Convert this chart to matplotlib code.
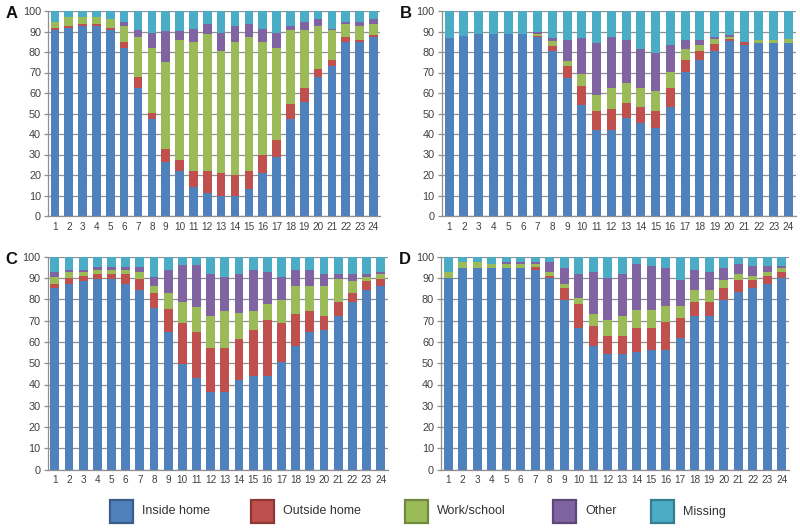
import matplotlib
matplotlib.use("Agg")
import matplotlib.pyplot as plt
from matplotlib.patches import Rectangle
import numpy as np

plt.rcParams["font.family"] = ["Liberation Sans", "DejaVu Sans"]

hours = list(range(1, 25))
categories = ["Inside home", "Outside home", "Work/school", "Other", "Missing"]
colors = ["#4F81BD", "#C0504D", "#9BBB59", "#8064A2", "#4BACC6"]
edge_colors = ["#385D8A", "#8C3836", "#71893F", "#5C4776", "#357D91"]

# Panel A
a_inside = [90.6, 91.5, 92.7, 92.7, 90.6, 81.8, 62.3, 47.2, 26.3, 21.8, 14.3, 11.0,
            10.0, 10.0, 13.0, 21.0, 28.6, 47.2, 55.6, 67.6, 73.2, 85.0, 85.0, 87.2]
a_outside = [0.9, 1.0, 1.0, 1.0, 0.9, 3.1, 5.3, 2.9, 6.5, 5.5, 7.8, 11.0,
             11.0, 10.0, 9.0, 8.6, 8.6, 7.3, 6.7, 4.3, 2.9, 2.2, 0.9, 0.9]
a_work = [3.3, 4.4, 3.2, 3.2, 4.4, 7.8, 19.7, 31.7, 42.5, 58.7, 62.9, 66.6,
          59.6, 65.0, 65.3, 55.4, 44.8, 36.1, 28.4, 20.8, 14.6, 6.5, 6.6, 5.6]
a_other = [0, 0, 0, 0, 0, 2.1, 3.4, 7.6, 15.1, 4.4, 6.4, 5.1,
           8.8, 7.7, 6.4, 6.4, 7.4, 2.1, 3.9, 3.2, 0.7, 0.9, 2.1, 2.2]
a_missing = [5.2, 3.1, 3.1, 3.1, 4.1, 5.2, 9.3, 10.6, 9.6, 9.6, 8.6, 6.3,
             10.6, 7.3, 6.3, 8.6, 10.6, 7.3, 5.4, 4.1, 8.6, 5.4, 5.4, 4.1]

# Panel B
b_inside = [87.0, 88.0, 89.0, 89.0, 89.0, 89.0, 87.2, 80.5, 67.5, 54.0, 41.8, 41.8,
            47.6, 45.5, 42.8, 53.3, 70.4, 75.9, 80.5, 85.5, 83.6, 84.2, 84.2, 84.2]
b_outside = [0, 0, 0, 0, 0, 0, 0.8, 2.6, 5.5, 9.6, 9.4, 10.6,
             7.7, 7.7, 8.6, 9.1, 5.5, 4.6, 3.6, 0.8, 1.1, 0, 0, 0]
b_work = [0, 0, 0, 0, 0, 0, 1.0, 2.3, 2.8, 5.7, 7.7, 10.0,
          9.4, 9.4, 9.4, 8.0, 5.6, 2.9, 2.1, 1.0, 0.3, 1.7, 1.7, 2.0]
b_other = [0, 0, 0, 0, 0, 0, 0.6, 1.6, 10.2, 17.7, 25.3, 24.8,
           21.2, 18.7, 18.9, 12.9, 4.5, 2.6, 1.0, 0.8, 0, 0, 0, 0]
b_missing = [13.0, 12.0, 11.0, 11.0, 11.0, 11.0, 10.4, 13.0, 14.0, 13.0, 15.8, 12.8,
             14.1, 18.7, 20.3, 16.7, 14.0, 14.0, 12.8, 11.9, 15.0, 14.1, 14.1, 13.8]

# Panel C
c_inside = [85.1, 87.3, 88.4, 89.5, 89.5, 87.2, 84.2, 76.0, 64.8, 49.5, 42.9, 36.3,
            36.3, 41.9, 43.8, 43.8, 50.5, 58.2, 64.6, 65.7, 72.3, 78.7, 84.2, 86.4]
c_outside = [2.2, 2.5, 2.4, 2.4, 2.4, 4.7, 5.5, 7.1, 10.6, 19.4, 21.9, 20.7,
             20.7, 19.6, 21.9, 26.3, 18.5, 15.0, 9.7, 6.4, 6.4, 4.2, 4.2, 3.1]
c_work = [3.3, 3.2, 2.2, 2.0, 2.0, 2.0, 3.1, 3.3, 7.6, 9.7, 11.7, 15.1,
          17.5, 11.9, 8.8, 7.7, 10.7, 13.2, 12.1, 14.3, 10.8, 5.7, 2.2, 2.2]
c_other = [2.4, 0.9, 0.9, 1.1, 1.1, 1.1, 2.2, 4.2, 10.7, 17.3, 19.4, 19.8,
           16.1, 18.5, 19.2, 14.8, 10.9, 7.3, 7.3, 5.3, 2.2, 3.1, 1.1, 0.9]
c_missing = [7.0, 6.1, 6.1, 5.0, 5.0, 5.0, 5.0, 9.4, 6.3, 4.1, 4.1, 8.1,
             9.4, 8.1, 6.3, 7.4, 9.4, 6.3, 6.3, 8.3, 8.3, 8.3, 8.3, 7.4]

# Panel D
d_inside = [90.0, 94.7, 94.7, 94.7, 94.7, 94.7, 93.7, 89.8, 79.7, 66.5, 58.2, 54.5,
            54.5, 55.4, 56.2, 56.2, 61.8, 72.1, 72.1, 79.8, 83.4, 85.3, 87.2, 90.0]
d_outside = [0, 0, 0, 0, 0, 0, 1.3, 1.1, 5.6, 11.3, 9.2, 8.3,
             8.3, 11.1, 10.3, 13.1, 9.4, 6.8, 6.8, 5.5, 5.6, 3.7, 3.7, 2.8]
d_work = [2.6, 2.6, 2.6, 1.7, 1.7, 1.7, 1.4, 1.7, 2.0, 3.0, 5.7, 7.5,
          9.5, 8.5, 8.5, 7.7, 5.8, 5.5, 5.5, 3.7, 2.9, 1.9, 1.9, 1.9]
d_other = [0, 0, 0, 0, 0.9, 0.9, 0.9, 4.7, 7.4, 11.1, 19.5, 19.8,
           19.6, 21.6, 20.6, 17.7, 12.2, 9.3, 8.4, 5.7, 4.7, 4.7, 2.8, 0.9]
d_missing = [7.4, 2.7, 2.7, 3.6, 2.7, 2.7, 2.7, 2.7, 5.3, 8.1, 7.4, 9.9,
             8.1, 3.4, 4.4, 5.3, 10.8, 6.3, 7.2, 5.3, 3.4, 4.4, 4.4, 4.4]

panels = {
    "A": [a_inside, a_outside, a_work, a_other, a_missing],
    "B": [b_inside, b_outside, b_work, b_other, b_missing],
    "C": [c_inside, c_outside, c_work, c_other, c_missing],
    "D": [d_inside, d_outside, d_work, d_other, d_missing],
}

W, H = 800, 529
# axes rectangles in pixels: left, top, right, bottom
boxes = {
    "A": (48, 11, 380.4, 216),
    "B": (441.7, 11, 795.7, 216),
    "C": (47.7, 256.7, 387.8, 469.7),
    "D": (441, 256.7, 789, 469.7),
}

fig = plt.figure(figsize=(W / 100, H / 100), dpi=100)
text_color = "#404040"
grid_color = "#8f8f8f"

for name, series in panels.items():
    l, t, r, b = boxes[name]
    ax = fig.add_axes([l / W, 1 - b / H, (r - l) / W, (b - t) / H])
    x = np.array(hours)
    bottom = np.zeros(len(hours))
    for vals, col in zip(series, colors):
        vals = np.array(vals, dtype=float)
        ax.bar(x, vals, width=0.62, bottom=bottom, color=col, linewidth=0, zorder=2)
        bottom += vals
    ax.set_xlim(0.5, 24.5)
    ax.set_ylim(0, 100)
    ax.set_yticks(range(0, 101, 10))
    ax.set_xticks(hours)
    ax.grid(axis="y", color=grid_color, linewidth=0.9, zorder=0)
    ax.set_axisbelow(True)
    for s in ("top", "right"):
        ax.spines[s].set_visible(False)
    for s in ("left", "bottom"):
        ax.spines[s].set_color(grid_color)
        ax.spines[s].set_linewidth(0.9)
    ax.tick_params(axis="y", length=3, width=0.9, color=grid_color, pad=2,
                   labelsize=7.8, labelcolor=text_color)
    ax.tick_params(axis="x", length=0, pad=4, labelsize=7.2, labelcolor=text_color)
    fig.text((l - 42) / W, 1 - (t + 3) / H, name, fontsize=12, fontweight="bold",
             ha="left", va="center", color="#111111")

# legend along the bottom
legend_x = [110, 251, 405, 553, 651]
for lx, cat, col, ec in zip(legend_x, categories, colors, edge_colors):
    fig.patches.append(Rectangle((lx / W, 1 - 523 / H), 23 / W, 23 / H,
                                 transform=fig.transFigure, facecolor=col,
                                 edgecolor=ec, linewidth=1.6))
    fig.text((lx + 32) / W, 1 - 511.5 / H, cat, fontsize=9, color="#333333",
             ha="left", va="center")

fig.savefig("out.png", dpi=100)
